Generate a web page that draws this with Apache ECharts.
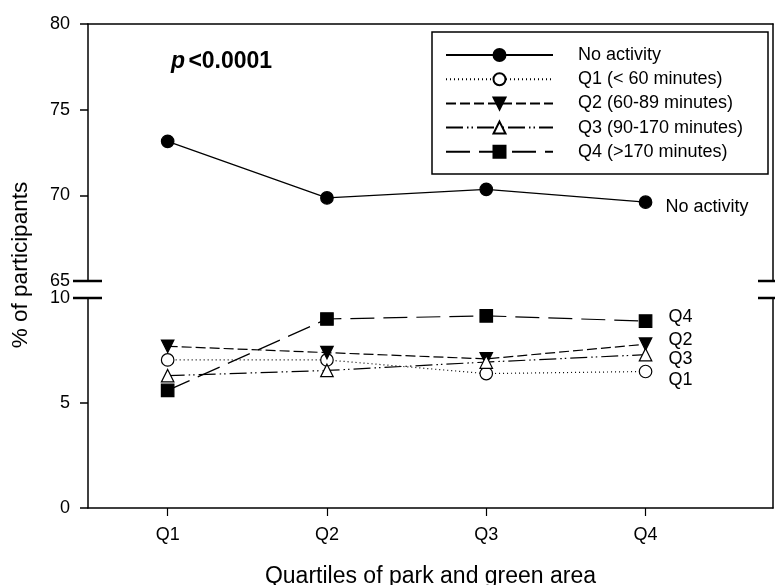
<!DOCTYPE html>
<html><head><meta charset="utf-8">
<script src="https://cdn.jsdelivr.net/npm/echarts@6/dist/echarts.min.js"></script>
<style>html,body{margin:0;padding:0;background:#fff}#c{width:775px;height:585px}</style>
</head><body><div id="c"></div><script>
const categories = ['Q1', 'Q2', 'Q3', 'Q4'];
const xPositions = [1, 2, 3, 4];
const noActivity = [73.15, 69.85, 70.35, 69.6];
const q1Values = [7.05, 7.05, 6.4, 6.5];
const q2Values = [7.7, 7.4, 7.1, 7.8];
const q3Values = [6.3, 6.55, 6.95, 7.3];
const q4Values = [5.6, 9.0, 9.15, 8.9];
const seriesNames = ['No activity', 'Q1 (< 60 minutes)', 'Q2 (60-89 minutes)', 'Q3 (90-170 minutes)', 'Q4 (>170 minutes)'];
const endLabels = ['No activity', 'Q1', 'Q2', 'Q3', 'Q4'];
const topTicks = [65, 70, 75, 80];
const bottomTicks = [0, 5, 10];

const FONT = '"Liberation Sans", Arial, sans-serif';
const chart = echarts.init(document.getElementById('c'), null, {renderer: 'canvas'});

function pts(vals) { return vals.map((v, i) => [xPositions[i], v]); }

const axisLine = {show: true, lineStyle: {color: '#000', width: 1.5}};
const seriesDefs = [
  {vals: noActivity, grid: 0, symbol: 'circle', fill: '#000', type: 'solid', rot: 0, off: [12, 5]},
  {vals: q1Values, grid: 1, symbol: 'circle', fill: '#fff', type: [1, 3], rot: 0, off: [15, 9]},
  {vals: q2Values, grid: 1, symbol: 'triangle', fill: '#000', type: [10, 4], rot: 180, off: [15, -4]},
  {vals: q3Values, grid: 1, symbol: 'triangle', fill: '#fff', type: [17, 4, 1.5, 3, 1.5, 4], rot: 0, off: [15, 4]},
  {vals: q4Values, grid: 1, symbol: 'rect', fill: '#000', type: [24, 9], rot: 0, off: [15, -4]}
];

const series = seriesDefs.map((d, i) => ({
  name: seriesNames[i],
  type: 'line',
  xAxisIndex: d.grid,
  yAxisIndex: d.grid === 0 ? 0 : 2,
  data: pts(d.vals),
  symbol: d.symbol,
  symbolSize: 12.5,
  symbolRotate: d.rot,
  showAllSymbol: true,
  animation: false,
  lineStyle: {color: '#000', width: 1.2, type: d.type},
  itemStyle: {color: d.fill, borderColor: '#000', borderWidth: 1.2},
  emphasis: {disabled: true},
  endLabel: {show: true, formatter: endLabels[i], color: '#000', fontSize: 18, fontFamily: FONT, offset: d.off}
}));

const option = {
  backgroundColor: '#fff',
  animation: false,
  textStyle: {fontFamily: FONT, color: '#000'},
  grid: [
    {left: 88, top: 24, width: 685, height: 257, containLabel: false, outerBoundsMode: 'none'},
    {left: 88, top: 298, width: 685, height: 210, containLabel: false, outerBoundsMode: 'none'}
  ],
  xAxis: [
    {gridIndex: 0, type: 'value', min: 0.5, max: 4.8, position: 'top',
      axisLine: axisLine, axisTick: {show: false}, axisLabel: {show: false}, splitLine: {show: false}},
    {gridIndex: 1, type: 'value', min: 0.5, max: 4.8, position: 'bottom',
      axisLine: axisLine,
      axisTick: {show: true, inside: false, length: 8, customValues: xPositions, lineStyle: {color: '#000', width: 1.2}},
      axisLabel: {show: true, customValues: xPositions, formatter: v => categories[Math.round(v) - 1] || '', color: '#000', fontSize: 18, fontFamily: FONT, margin: 18},
      splitLine: {show: false},
      name: 'Quartiles of park and green area', nameLocation: 'middle', nameGap: 57,
      nameTextStyle: {fontSize: 23, fontFamily: FONT, color: '#000'}}
  ],
  yAxis: [
    {gridIndex: 0, type: 'value', min: 65, max: 80, interval: 5, position: 'left',
      axisLine: axisLine, axisTick: {show: true, length: 8, lineStyle: {color: '#000', width: 1.5}},
      axisLabel: {color: '#000', fontSize: 18, fontFamily: FONT, margin: 18},
      splitLine: {show: false}},
    {gridIndex: 0, type: 'value', min: 65, max: 80, position: 'right',
      axisLine: axisLine, axisTick: {show: false}, axisLabel: {show: false}, splitLine: {show: false}},
    {gridIndex: 1, type: 'value', min: 0, max: 10, interval: 5, position: 'left',
      axisLine: axisLine, axisTick: {show: true, length: 8, lineStyle: {color: '#000', width: 1.5}},
      axisLabel: {color: '#000', fontSize: 18, fontFamily: FONT, margin: 18},
      splitLine: {show: false}},
    {gridIndex: 1, type: 'value', min: 0, max: 10, position: 'right',
      axisLine: axisLine, axisTick: {show: false}, axisLabel: {show: false}, splitLine: {show: false}}
  ],
  legend: {
    orient: 'vertical', left: 445, top: 46, padding: 0,
    itemWidth: 107, itemHeight: 15, itemGap: 6.2,
    data: seriesNames,
    selectedMode: false,
    textStyle: {fontSize: 18, fontFamily: FONT, color: '#000', padding: [0, 0, 0, 20], lineHeight: 16}
  },
  graphic: [
    {type: 'rect', shape: {x: 432, y: 32, width: 336, height: 142}, style: {fill: 'none', stroke: '#000', lineWidth: 1.5}, z: 10},
    {type: 'line', shape: {x1: 73, y1: 281, x2: 102, y2: 281}, style: {stroke: '#000', lineWidth: 2.5}, z: 10},
    {type: 'line', shape: {x1: 73, y1: 298, x2: 102, y2: 298}, style: {stroke: '#000', lineWidth: 2.5}, z: 10},
    {type: 'line', shape: {x1: 758, y1: 281, x2: 775, y2: 281}, style: {stroke: '#000', lineWidth: 2.5}, z: 10},
    {type: 'line', shape: {x1: 758, y1: 298, x2: 775, y2: 298}, style: {stroke: '#000', lineWidth: 2.5}, z: 10},
    {type: 'text', left: 171, top: 50, style: {
      text: '{i|p} {b|<0.0001}',
      rich: {
        i: {fontSize: 23, fontWeight: 'bold', fontStyle: 'italic', fontFamily: FONT, fill: '#000'},
        b: {fontSize: 23, fontWeight: 'bold', fontFamily: FONT, fill: '#000'}
      }
    }},
    {type: 'text', rotation: Math.PI / 2, x: 21, y: 265, style: {
      text: '% of participants', fontSize: 22.5, fontFamily: FONT, fill: '#000', align: 'center', verticalAlign: 'middle'
    }}
  ],
  series: series
};
chart.setOption(option);
</script></body></html>
